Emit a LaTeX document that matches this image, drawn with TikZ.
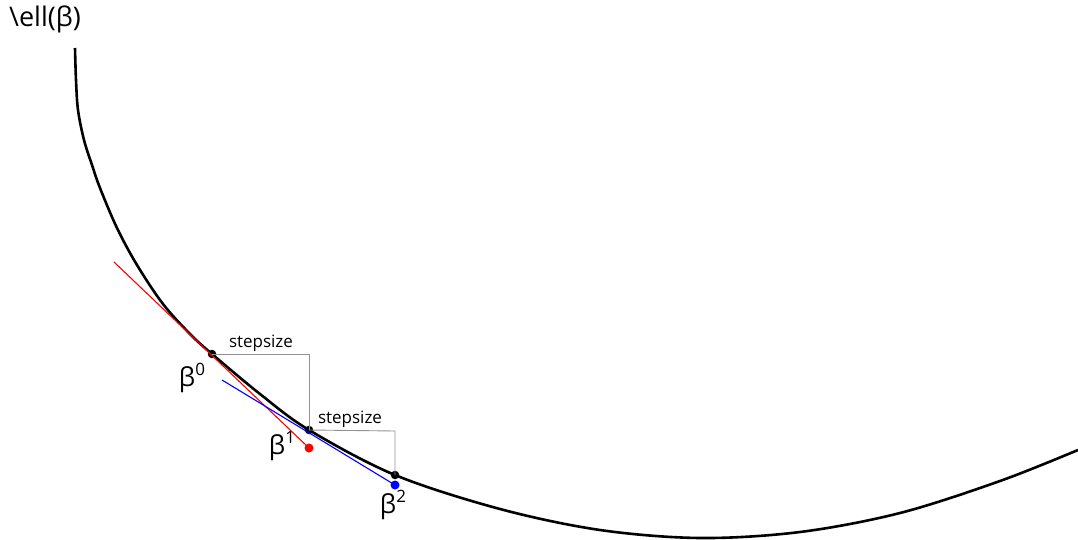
\documentclass[tikz,border=0pt]{standalone}
\usepackage{fontspec}
\setmainfont{Open Sans}
\newcommand{\supx}[1]{\raisebox{0.75ex}{\fontsize{17}{19}\selectfont #1}}
\begin{document}
\begin{tikzpicture}[x=1pt,y=-1pt,
  curveline/.style={line width=2.6pt,black},
  bracket/.style={draw=gray!85,line width=0.9pt},
  dotb/.style={circle,fill=black,inner sep=0pt,minimum size=8.5pt},
  dotr/.style={circle,fill=red,inner sep=0pt,minimum size=9pt},
  dotbl/.style={circle,fill=blue,inner sep=0pt,minimum size=9pt},
  steplab/.style={font=\fontsize{17}{19}\selectfont},
  betalab/.style={font=\fontsize{26}{30}\selectfont}]
\useasboundingbox (0,0) rectangle (1078,540);
\draw[curveline] plot[smooth,tension=0.55] coordinates {(75,48) (76,80) (78,110) (84,140) (92,165) (100,188) (117,228) (137,265) (163,304) (190,334) (212,354) (260,394) (309,430) (395,475) (500,509) (600,530) (700,538) (800,532) (900,513) (1000,481) (1078,450)};
\node[dotb] (b0) at (212,354) {};
\node[dotb] (b1) at (309,430) {};
\node[dotb] (b2) at (395,475) {};
\node[dotr] (r1) at (309,448) {};
\node[dotbl] (bl2) at (395,485) {};
\coordinate (rs) at (114,262);
\coordinate (bs) at (222,380);
\coordinate (c1) at (309,354);
\coordinate (c2) at (395,431);
\draw[red,line width=1.1pt] (rs) -- (r1.center);
\draw[blue,line width=1.1pt] (bs) -- (bl2.center);
\draw[bracket] (b0.center) -- (c1) -- (b1.center);
\draw[bracket] (b1.center) -- (c2) -- (b2.center);
\node[steplab] (s1) at (261,343) {stepsize};
\node[steplab] (s2) at (350,419) {stepsize};
\node[betalab] (l0) at (192,378) {β\supx{0}};
\node[betalab] (l1) at (282,446) {β\supx{1}};
\node[betalab] (l2) at (393,505) {β\supx{2}};
\node[font=\fontsize{27}{31}\selectfont] (ell) at (45,19) {\textbackslash ell(β)};
\end{tikzpicture}
\end{document}
